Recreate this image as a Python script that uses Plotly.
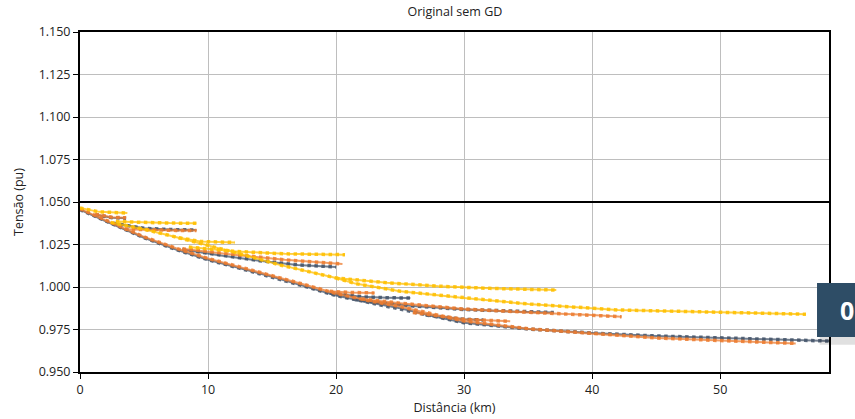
import plotly.graph_objects as go

# ---- data (distance km, voltage pu) ----
blue_trunk_x = [0, 2.5, 5, 7.5, 10, 12.5, 15, 17.5, 20, 22.5, 25, 27.5, 30, 35, 40, 45, 50, 55, 58.5]
blue_trunk_v = [1.0455, 1.037, 1.029, 1.022, 1.016, 1.011, 1.006, 1.0005, 0.995, 0.991, 0.9875, 0.983, 0.979, 0.9753, 0.9729, 0.9712, 0.9700, 0.9692, 0.9682]
blue_b1_x = [1.2, 2.5, 3.6]
blue_b1_v = [1.0425, 1.0408, 1.0405]
blue_b2_x = [2.6, 5, 7, 9.1]
blue_b2_v = [1.0375, 1.0345, 1.0338, 1.0335]
blue_b3_x = [8, 11, 14, 17, 20]
blue_b3_v = [1.022, 1.0185, 1.0155, 1.013, 1.0118]
blue_b4_x = [19.5, 22, 24, 25.8]
blue_b4_v = [0.9965, 0.9942, 0.9937, 0.9935]
blue_b5_x = [21.5, 26, 30, 34, 37]
blue_b5_v = [0.9925, 0.9888, 0.9868, 0.9855, 0.985]
blue_b6_x = [27, 30, 31.5]
blue_b6_v = [0.9835, 0.981, 0.9806]

orange_trunk_x = [0, 2.5, 5, 7.5, 10, 12.5, 15, 17.5, 20, 22.5, 25, 27.5, 30, 35, 40, 45, 50, 55.9]
orange_trunk_v = [1.046, 1.0375, 1.0295, 1.0228, 1.0168, 1.0118, 1.0068, 1.0015, 0.9962, 0.992, 0.9885, 0.984, 0.980, 0.9755, 0.9725, 0.9700, 0.9685, 0.9668]
orange_b1_x = [1.2, 2.5, 3.6]
orange_b1_v = [1.0428, 1.041, 1.0407]
orange_b2_x = [3.5, 5.5, 7.5, 9.1]
orange_b2_v = [1.034, 1.0335, 1.0333, 1.0332]
orange_b3_x = [8, 12, 16, 20.5]
orange_b3_v = [1.0225, 1.019, 1.016, 1.0135]
orange_b4_x = [19.5, 21, 23]
orange_b4_v = [0.9975, 0.9968, 0.9965]
orange_b5_x = [22, 25, 30, 35, 40, 42.3]
orange_b5_v = [0.993, 0.9905, 0.987, 0.985, 0.9835, 0.9825]
orange_b6_x = [26, 30, 33.6]
orange_b6_v = [0.985, 0.981, 0.9798]

yellow_b1_x = [0, 1.5, 3.7]
yellow_b1_v = [1.0465, 1.0442, 1.0435]
yellow_b2_x = [2.8, 5, 7, 9.1]
yellow_b2_v = [1.0385, 1.0378, 1.0376, 1.0375]
yellow_b3_x = [2.4, 5, 7.7, 9.4, 12.1]
yellow_b3_v = [1.038, 1.034, 1.029, 1.0268, 1.0262]
yellow_b4_x = [8.5, 12, 16, 20.7]
yellow_b4_v = [1.0235, 1.021, 1.0195, 1.019]
yellow_b5_x = [7.7, 10, 12, 15.6, 20, 24, 28, 32, 37.2]
yellow_b5_v = [1.029, 1.0245, 1.0205, 1.013, 1.0053, 1.0025, 1.0005, 0.9992, 0.9982]
yellow_b6_x = [20, 21.5, 25, 30, 35, 42, 50, 56.7]
yellow_b6_v = [1.0053, 1.002, 0.9975, 0.9935, 0.990, 0.9865, 0.9852, 0.984]

x_ticks = [0, 10, 20, 30, 40, 50]
y_ticks = [0.950, 0.975, 1.000, 1.025, 1.050, 1.075, 1.100, 1.125, 1.150]
limit_v = 1.050

BLUE = "#44546A"
ORANGE = "#ED7D31"
YELLOW = "#FFC000"

def joined(pairs):
    xs, vs = [], []
    for x, v in pairs:
        xs += list(x) + [None]
        vs += list(v) + [None]
    return xs, vs

fig = go.Figure()

series = [
    (BLUE, [(blue_trunk_x, blue_trunk_v), (blue_b1_x, blue_b1_v), (blue_b2_x, blue_b2_v),
            (blue_b3_x, blue_b3_v), (blue_b4_x, blue_b4_v), (blue_b5_x, blue_b5_v), (blue_b6_x, blue_b6_v)]),
    (ORANGE, [(orange_trunk_x, orange_trunk_v), (orange_b1_x, orange_b1_v), (orange_b2_x, orange_b2_v),
              (orange_b3_x, orange_b3_v), (orange_b4_x, orange_b4_v), (orange_b5_x, orange_b5_v), (orange_b6_x, orange_b6_v)]),
    (YELLOW, [(yellow_b1_x, yellow_b1_v), (yellow_b2_x, yellow_b2_v), (yellow_b3_x, yellow_b3_v),
              (yellow_b4_x, yellow_b4_v), (yellow_b5_x, yellow_b5_v), (yellow_b6_x, yellow_b6_v)]),
]
for color, pairs in series:
    xs, vs = joined(pairs)
    fig.add_trace(go.Scatter(x=xs, y=vs, mode="lines", line=dict(color=color, width=3.5, dash="dot"),
                             opacity=0.85, showlegend=False, hoverinfo="skip", connectgaps=False))
    fig.add_trace(go.Scatter(x=xs, y=vs, mode="lines", line=dict(color=color, width=2),
                             opacity=0.75, showlegend=False, hoverinfo="skip", connectgaps=False))

# reference limit line
fig.add_shape(type="line", xref="paper", x0=0, x1=1, yref="y", y0=limit_v, y1=limit_v,
              line=dict(color="black", width=2))

# page badge overlay
fig.add_shape(type="rect", xref="paper", yref="paper", x0=0.9875, x1=1.04, y0=0.080, y1=0.252,
              fillcolor="rgba(0,0,0,0.12)", line=dict(width=0), layer="above")
fig.add_shape(type="rect", xref="paper", yref="paper", x0=0.984, x1=1.04, y0=0.103, y1=0.262,
              fillcolor="#2E4D66", line=dict(width=0), layer="above")
fig.add_annotation(xref="paper", yref="paper", x=1.0235, y=0.182, xanchor="center", yanchor="middle",
                   text="<b>0</b>", showarrow=False,
                   font=dict(family="Open Sans, Noto Sans", size=25, color="white"))

font_fam = "Open Sans, Noto Sans, sans-serif"
fig.update_layout(
    width=855, height=419,
    margin=dict(l=80, r=26, t=32, b=47, autoexpand=False),
    paper_bgcolor="white", plot_bgcolor="white",
    title=dict(text="Original sem GD", x=0.532, xanchor="center", y=0.9715, yanchor="middle",
               automargin=False, pad=dict(t=0, b=0), font=dict(family=font_fam, size=12.5, color="#222")),
    font=dict(family=font_fam, size=12.5, color="#222"),
    xaxis=dict(range=[0, 58.5], tickvals=x_ticks, ticks="outside", ticklen=5, tickcolor="black",
               showgrid=True, gridcolor="#BEBEBE", gridwidth=1, zeroline=False, automargin=False,
               showline=True, linecolor="black", linewidth=2, mirror=True,
               title=dict(text="Distância (km)", standoff=6, font=dict(size=12.5))),
    yaxis=dict(range=[0.950, 1.150], tickvals=y_ticks, tickformat=".3f", ticks="outside", ticklen=5,
               tickcolor="black", showgrid=True, gridcolor="#BEBEBE", gridwidth=1, zeroline=False,
               automargin=False, showline=True, linecolor="black", linewidth=2, mirror=True,
               title=dict(text="Tensão (pu)", standoff=12, font=dict(size=12.5))),
)

# remove the default 8px page margin so the figure fills the window exactly
fig.write_html("out.html", config={"displayModeBar": False},
               post_script="document.body.style.margin='0';")
